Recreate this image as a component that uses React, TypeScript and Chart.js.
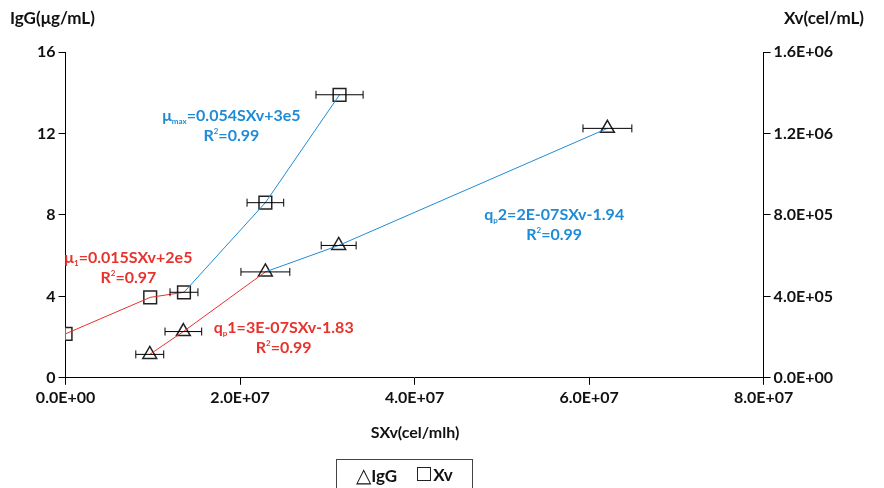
import React, { useEffect, useRef } from "react";
import { Chart, registerables } from "chart.js";
Chart.register(...registerables);

const igX = [0.965e7, 1.35e7, 2.29e7, 3.13e7, 6.21e7];
const igY = [1.15, 2.27, 5.2, 6.5, 12.25];
const igErr = [0.16e7, 0.21e7, 0.28e7, 0.2e7, 0.28e7];
const xvX = [0, 0.97e7, 1.357e7, 2.29e7, 3.14e7];
const xvY = [2.16e5, 3.95e5, 4.2e5, 8.6e5, 1.39e6];
const xvErr = [0, 0, 0.16e7, 0.21e7, 0.27e7];
const RED = "#e8322d";
const BLUE = "#1f8bd6";
const FONT = "Lato, 'Open Sans', sans-serif";

function sci(v: number) {
  if (v === 0) return "0.0E+00";
  const e = Math.floor(Math.log10(v) + 1e-9);
  const m = v / Math.pow(10, e);
  return m.toFixed(1) + "E+" + String(e).padStart(2, "0");
}

type Seg = [string, number, number?];
const annotations: { x: number; y: number; color: string; lines: Seg[][] }[] = [
  { x: 1.9e7, y: 12.6, color: BLUE, lines: [[["μ", 16], ["max", 8, 3], ["=0.054SXv+3e5", 16]], [["R", 16], ["2", 8, -7], ["=0.99", 16]]] },
  { x: 5.6e7, y: 7.75, color: BLUE, lines: [[["q", 16], ["p", 8, 3], ["2=2E-07SXv-1.94", 16]], [["R", 16], ["2", 8, -7], ["=0.99", 16]]] },
  { x: 0.72e7, y: 5.65, color: RED, lines: [[["μ", 16], ["1", 8, 3], ["=0.015SXv+2e5", 16]], [["R", 16], ["2", 8, -7], ["=0.97", 16]]] },
  { x: 2.5e7, y: 2.2, color: RED, lines: [[["q", 16], ["p", 8, 3], ["1=3E-07SXv-1.83", 16]], [["R", 16], ["2", 8, -7], ["=0.99", 16]]] },
];

const pts = (xs: number[], ys: number[]) => xs.map((x, i) => ({ x, y: ys[i] }));

export default function App() {
  const ref = useRef<HTMLCanvasElement>(null);
  useEffect(() => {
    const extras = {
      id: "extras",
      afterDatasetsDraw(chart: any) {
        const ctx = chart.ctx;
        const xs = chart.scales.x, y = chart.scales.y, y2 = chart.scales.y2;
        ctx.save();
        ctx.strokeStyle = "#000";
        ctx.lineWidth = 1;
        const bar = (cx: number, err: number, py: number) => {
          if (!err) return;
          const l = xs.getPixelForValue(cx - err), r = xs.getPixelForValue(cx + err);
          ctx.beginPath();
          ctx.moveTo(l, py); ctx.lineTo(r, py);
          ctx.moveTo(l, py - 4); ctx.lineTo(l, py + 4);
          ctx.moveTo(r, py - 4); ctx.lineTo(r, py + 4);
          ctx.stroke();
        };
        igX.forEach((x, i) => bar(x, igErr[i], y.getPixelForValue(igY[i])));
        xvX.forEach((x, i) => bar(x, xvErr[i], y2.getPixelForValue(xvY[i])));
        ctx.restore();
      },
      afterDraw(chart: any) {
        const ctx = chart.ctx;
        const xs = chart.scales.x, y = chart.scales.y;
        ctx.save();
        ctx.textBaseline = "alphabetic";
        for (const a of annotations) {
          const cx = xs.getPixelForValue(a.x);
          let cy = y.getPixelForValue(a.y);
          for (const line of a.lines) {
            let w = 0;
            for (const s of line) { ctx.font = `bold ${s[1]}px ${FONT}`; w += ctx.measureText(s[0]).width; }
            let px = cx - w / 2;
            ctx.fillStyle = a.color;
            for (const s of line) {
              ctx.font = `bold ${s[1]}px ${FONT}`;
              ctx.fillText(s[0], px, cy + (s[2] || 0));
              px += ctx.measureText(s[0]).width;
            }
            cy += 20;
          }
        }
        ctx.fillStyle = "#111";
        ctx.font = `bold 17px ${FONT}`;
        ctx.textAlign = "left";
        ctx.fillText("IgG(μg/mL)", 10, 24);
        ctx.textAlign = "right";
        ctx.fillText("Xv(cel/mL)", 864, 24);
        ctx.textAlign = "center";
        ctx.font = `bold 16px ${FONT}`;
        ctx.fillText("SXv(cel/mlh)", 415, 438);
        ctx.restore();
      },
    };
    const tickFont = { family: FONT, size: 16, weight: "bold" as const };
    const gridOpts = { drawOnChartArea: false, drawTicks: true, tickLength: 7, color: "#000" };
    const chart = new Chart(ref.current!, {
      type: "scatter",
      data: {
        datasets: [
          { type: "line", data: pts(xvX.slice(0, 3), xvY.slice(0, 3)), yAxisID: "y2", borderColor: RED, borderWidth: 1, pointRadius: 0 },
          { type: "line", data: pts(xvX.slice(2), xvY.slice(2)), yAxisID: "y2", borderColor: BLUE, borderWidth: 1, pointRadius: 0 },
          { type: "line", data: pts(igX.slice(0, 3), igY.slice(0, 3)), yAxisID: "y", borderColor: RED, borderWidth: 1, pointRadius: 0 },
          { type: "line", data: pts(igX.slice(2), igY.slice(2)), yAxisID: "y", borderColor: BLUE, borderWidth: 1, pointRadius: 0 },
          { label: "IgG", data: pts(igX, igY), yAxisID: "y", pointStyle: "triangle", pointRadius: 8, backgroundColor: "#fff", borderColor: "#222", borderWidth: 1.5 },
          { label: "Xv", data: pts(xvX, xvY), yAxisID: "y2", pointStyle: "rect", pointRadius: 9, backgroundColor: "#fff", borderColor: "#222", borderWidth: 1.5 },
        ] as any,
      },
      options: {
        animation: false,
        responsive: false,
        layout: { padding: { top: 52, left: 34, right: 48, bottom: 40 } },
        plugins: { legend: { display: false }, tooltip: { enabled: false } },
        scales: {
          x: { type: "linear", min: 0, max: 8e7, ticks: { stepSize: 2e7, callback: (v: any) => sci(v), color: "#111", font: tickFont, maxRotation: 0 }, grid: gridOpts, border: { color: "#000" } },
          y: { min: 0, max: 16, ticks: { stepSize: 4, color: "#111", font: tickFont }, grid: gridOpts, border: { color: "#000" } },
          y2: { position: "right", min: 0, max: 1.6e6, ticks: { stepSize: 4e5, callback: (v: any) => sci(v), color: "#111", font: tickFont }, grid: gridOpts, border: { color: "#000" } },
        },
      } as any,
      plugins: [extras],
    });
    return () => chart.destroy();
  }, []);
  return (
    <div style={{ position: "fixed", left: 0, top: 0, width: 884, height: 488, background: "#fff" }}>
      <canvas ref={ref} width={884} height={450} style={{ display: "block" }} />
      <div style={{ position: "absolute", left: 336, top: 459, width: 137, height: 30, borderLeft: "1px solid #444", borderRight: "1px solid #444", borderTop: "1px solid #444", boxSizing: "border-box", fontFamily: FONT, fontWeight: "bold", fontSize: 17, color: "#111", display: "flex", alignItems: "center", justifyContent: "center", gap: 20 }}>
        <span><span style={{ fontSize: 20, fontWeight: "normal" }}>△</span>IgG</span><span><span style={{ display: "inline-block", width: 12, height: 12, border: "1.5px solid #222", marginRight: 2 }}></span>Xv</span>
      </div>
    </div>
  );
}
